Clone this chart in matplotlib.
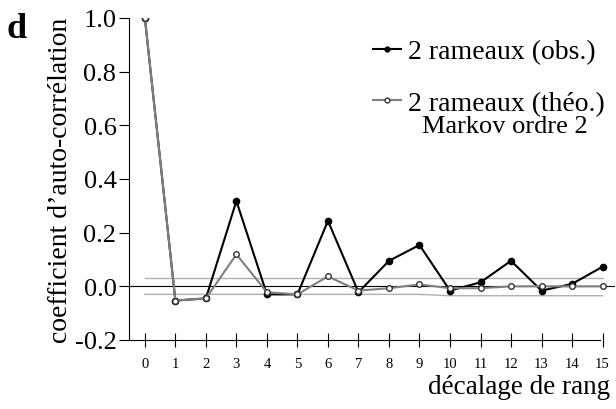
#!/usr/bin/env python3
"""Autocorrelation of branch sequences: observed vs Markov order-2 model."""

import matplotlib
matplotlib.use("Agg")
import matplotlib.pyplot as plt
from matplotlib.lines import Line2D

plt.rcParams["font.family"] = ["Liberation Serif", "DejaVu Serif"]
plt.rcParams["axes.unicode_minus"] = False

# data
lags = list(range(16))
obs = [1.0, -0.053, -0.045, 0.318, -0.030, -0.030, 0.244, -0.022,
       0.095, 0.154, -0.016, 0.015, 0.095, -0.016, 0.009, 0.073]
theo = [1.0, -0.053, -0.045, 0.119, -0.022, -0.030, 0.037, -0.016,
        -0.007, 0.007, -0.007, -0.007, 0.0, 0.0, 0.0, 0.0]
conf_upper = [0.03] * 16
conf_lower = [-0.03] * 10 + [-0.035] * 6
yticks = [-0.2, 0.0, 0.2, 0.4, 0.6, 0.8, 1.0]

fig = plt.figure(figsize=(6.16, 4.10), dpi=100)
ax = fig.add_axes([0.2094, 0.1683, 0.7886, 0.7854])

ax.plot(lags, conf_upper, color="#b0b0b0", lw=1.0, zorder=1)
ax.plot(lags, conf_lower, color="#b0b0b0", lw=1.0, zorder=1)
ax.axhline(0, color="black", lw=0.8, zorder=1.5)

ax.plot(lags, obs, color="black", lw=1.5, marker="o", ms=4.5,
        mfc="black", mec="black", zorder=3)
ax.plot(lags, theo, color="#808080", lw=1.5, marker="o", ms=4,
        mfc="white", mec="#333333", mew=1.0, zorder=4)

ax.set_xlim(-0.52, 15.4)
ax.set_ylim(-0.2, 1.0)

for side in ["top", "right"]:
    ax.spines[side].set_visible(False)
ax.spines["left"].set_linewidth(0.8)
ax.spines["bottom"].set_linewidth(0.8)
ax.spines["bottom"].set_bounds(-0.52, 14.9)

ax.set_yticks(yticks)
ax.set_yticklabels([f"{v:.1f}" for v in yticks], fontsize=19)
ax.tick_params(axis="y", direction="out", length=7, width=0.8, pad=2)
ax.set_xticks(lags)
ax.set_xticklabels([str(v) for v in lags], fontsize=10.5)
ax.tick_params(axis="x", direction="inout", length=10, width=0.8, pad=7)

ax.set_ylabel("coefficient d\u2019auto-corrélation", fontsize=20, labelpad=1)
ax.set_xlabel("décalage de rang", fontsize=19.5, ha="right")
ax.xaxis.set_label_coords(0.990, -0.143)
ax.xaxis.label.set_va("center")

handles = [
    Line2D([], [], color="black", lw=1.5, marker="o", ms=3.5, mfc="black"),
    Line2D([], [], color="#808080", lw=1.5, marker="o", ms=3.5,
           mfc="white", mec="#333333"),
]
leg = ax.legend(handles, ["2 rameaux (obs.)", "2 rameaux (théo.)"],
                loc="upper left", bbox_to_anchor=(0.502, 0.935), frameon=False,
                fontsize=20, handlelength=1.0, handletextpad=0.25,
                labelspacing=0.95, borderaxespad=0.0, borderpad=0.0)
ax.text(0.774, 0.664, "Markov ordre 2", transform=ax.transAxes,
        ha="center", va="center", fontsize=19)

fig.text(0.011, 0.907, "d", fontsize=26, fontweight="bold", va="baseline")

fig.savefig("out.png", dpi=100)
